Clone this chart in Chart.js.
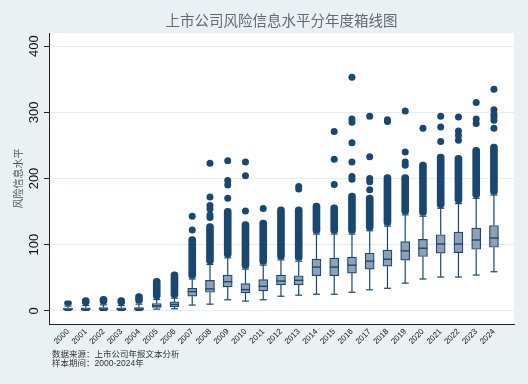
<!DOCTYPE html>
<html>
<head>
<meta charset="utf-8">
<script src="https://cdn.jsdelivr.net/npm/chart.js@4.4.1/dist/chart.umd.min.js"></script>
<style>
  html, body { margin: 0; padding: 0; background: #eaf1f3; }
  #chart { display: block; }
</style>
</head>
<body>
<canvas id="chart" width="528" height="384"></canvas>
<script>
// datos (valores aproximados)
const years = [2000, 2001, 2002, 2003, 2004, 2005, 2006, 2007, 2008, 2009, 2010, 2011, 2012,
               2013, 2014, 2015, 2016, 2017, 2018, 2019, 2020, 2021, 2022, 2023, 2024];
const yTicks = [0, 100, 200, 300, 400];

const whiskerLow  = [0.5, 0.5, 0.5, 0.5, 0.5, 2.5, 3, 8.6, 10, 16.6, 14.6, 16.6, 22, 23.6, 25, 25, 28, 31.7, 34, 41.8, 48, 51, 51, 54, 59];
const q1          = [1.5, 1.5, 1.5, 1.5, 1.5, 5, 6, 22, 28, 36, 27, 30, 39, 39, 53, 53, 57, 63, 67.4, 76.5, 82, 87, 88, 93, 96];
const median      = [2.5, 2.5, 2.8, 2.5, 2.8, 7.5, 9.5, 29, 33, 44, 32, 37, 45, 46, 66, 66, 69, 75, 78, 90.6, 94.6, 101, 101, 107, 110];
const q3          = [4, 4.5, 5, 4.5, 5, 11, 13.5, 34, 46, 54, 41, 47, 54, 53, 78, 79.5, 81, 87, 91.6, 104.6, 108, 115, 119, 125, 129];
const whiskerHigh = [7, 8, 9, 8, 10, 17, 19, 48, 70, 80, 63, 69, 77, 75, 116, 116, 116, 121, 128, 145, 143, 155, 162, 170, 175];

// franja continua de valores atipicos (desde / hasta)
const outlierFrom = [8, 9, 10, 9, 11, 18, 20, 49, 71, 81, 64, 70, 78, 76, 117, 117, 117, 122, 129, 146, 144, 156, 163, 171, 176];
const outlierTo   = [15, 20, 22, 20, 26, 49, 59, 112, 132, 155, 135, 137, 157, 157, 163, 160, 178, 175, 206, 206, 225, 237, 235, 247, 252];

// atipicos sueltos por año
const outlierDots = [
  [], [], [], [], [], [], [],
  [122, 143],
  [141, 145, 154, 159, 172, 223],
  [170, 190, 197, 227],
  [151, 204, 225],
  [154.5],
  [],
  [184, 188],
  [],
  [191, 229, 271],
  [199, 203, 225, 254, 285, 290, 353],
  [183, 195, 200, 233, 294],
  [286, 289],
  [220, 225, 240, 302],
  [276],
  [256, 278, 294],
  [258, 265, 272, 293],
  [283, 290, 315],
  [276, 288, 293, 297, 304, 335]
];

const NAVY = "#1a476f";
const BOX_FILL = "#8ea1b6";

// puntos sueltos como pares {x, y}
const dotData = [];
years.forEach((yr, i) => {
  outlierDots[i].forEach(v => dotData.push({ x: yr, y: v }));
});

// fondo gris y area blanca
const backgroundPlugin = {
  id: "backgroundPlugin",
  beforeDraw(chart) {
    const { ctx, chartArea: a } = chart;
    ctx.save();
    ctx.fillStyle = "#eaf1f3";
    ctx.fillRect(0, 0, chart.width, chart.height);
    ctx.fillStyle = "#ffffff";
    ctx.fillRect(a.left, a.top, a.right - a.left, a.bottom - a.top);
    ctx.restore();
  }
};

// bigotes, topes y mediana
const boxPartsPlugin = {
  id: "boxPartsPlugin",
  beforeDatasetsDraw(chart) {
    const { ctx, scales: { x, y } } = chart;
    ctx.save();
    ctx.strokeStyle = NAVY;
    ctx.lineWidth = 1.2;
    years.forEach((yr, i) => {
      const px = x.getPixelForValue(yr);
      const segs = [[whiskerLow[i], q1[i]], [q3[i], whiskerHigh[i]]];
      segs.forEach(([a, b]) => {
        ctx.beginPath();
        ctx.moveTo(px, y.getPixelForValue(a));
        ctx.lineTo(px, y.getPixelForValue(b));
        ctx.stroke();
      });
      [whiskerLow[i], whiskerHigh[i]].forEach(v => {
        const py = y.getPixelForValue(v);
        ctx.beginPath();
        ctx.moveTo(px - 3.5, py);
        ctx.lineTo(px + 3.5, py);
        ctx.stroke();
      });
    });
    ctx.restore();
  },
  afterDatasetsDraw(chart) {
    const { ctx, scales: { x, y } } = chart;
    ctx.save();
    ctx.strokeStyle = NAVY;
    ctx.lineWidth = 1.4;
    years.forEach((yr, i) => {
      const px = x.getPixelForValue(yr);
      const py = y.getPixelForValue(median[i]);
      ctx.beginPath();
      ctx.moveTo(px - 4.5, py);
      ctx.lineTo(px + 4.5, py);
      ctx.stroke();
    });
    ctx.restore();
  }
};

// titulo y notas
const textPlugin = {
  id: "textPlugin",
  afterDraw(chart) {
    const { ctx, chartArea: a } = chart;
    ctx.save();
    ctx.fillStyle = "#5f6a74";
    ctx.font = "14.5px 'Noto Sans CJK SC'";
    ctx.textAlign = "center";
    ctx.textBaseline = "middle";
    ctx.fillText("上市公司风险信息水平分年度箱线图", (a.left + a.right) / 2, 20);

    ctx.fillStyle = "#333333";
    ctx.font = "8.5px 'Liberation Sans', 'Noto Sans CJK SC'";
    ctx.textAlign = "left";
    ctx.fillText("数据来源：上市公司年报文本分析", 52, 355);
    ctx.fillText("样本期间：2000-2024年", 52, 363.5);
    ctx.restore();
  }
};

new Chart(document.getElementById("chart"), {
  type: "bar",
  data: {
    labels: years,
    datasets: [
      {
        label: "box",
        data: years.map((yr, i) => [q1[i], q3[i]]),
        backgroundColor: BOX_FILL,
        borderColor: NAVY,
        borderWidth: 1.2,
        borderSkipped: false,
        barThickness: 9,
        grouped: false,
        order: 0
      },
      {
        type: "line",
        label: "dots",
        data: dotData,
        showLine: false,
        pointRadius: 3.5,
        pointBackgroundColor: NAVY,
        pointBorderWidth: 0,
        order: 1
      },
      {
        label: "band",
        data: years.map((yr, i) => [outlierFrom[i], outlierTo[i]]),
        backgroundColor: NAVY,
        borderWidth: 0,
        borderSkipped: false,
        borderRadius: 4,
        barThickness: 7,
        grouped: false,
        order: 2
      }
    ]
  },
  options: {
    responsive: false,
    animation: false,
    layout: { padding: { top: 33, right: 14, bottom: 34, left: 0 } },
    plugins: {
      legend: { display: false },
      tooltip: { enabled: false }
    },
    scales: {
      x: {
        type: "linear",
        min: 1998.93,
        max: 2025.13,
        offset: false,
        afterBuildTicks: s => { s.ticks = years.map(v => ({ value: v })); },
        afterFit: s => { s.height = 26; },
        ticks: {
          autoSkip: false,
          minRotation: 45,
          maxRotation: 45,
          padding: 3,
          color: "#111",
          font: { family: "Liberation Sans", size: 8 },
          callback: v => String(v)
        },
        grid: { display: false, drawTicks: false },
        border: { color: "#222", width: 1 }
      },
      y: {
        min: -20,
        max: 420,
        afterBuildTicks: s => { s.ticks = yTicks.map(v => ({ value: v })); },
        afterFit: s => { s.width = 49; },
        ticks: {
          minRotation: 90,
          maxRotation: 90,
          crossAlign: "center",
          padding: -1,
          color: "#111",
          font: { family: "Liberation Sans", size: 13 }
        },
        grid: { color: "#e4edf0", tickColor: "#222", tickLength: 5 },
        border: { color: "#222", width: 1 },
        title: {
          display: true,
          text: "风险信息水平",
          color: "#555",
          font: { family: "Noto Sans CJK SC", size: 10 },
          padding: { top: 12, bottom: 0 }
        }
      }
    }
  },
  plugins: [backgroundPlugin, boxPartsPlugin, textPlugin]
});
</script>
</body>
</html>
